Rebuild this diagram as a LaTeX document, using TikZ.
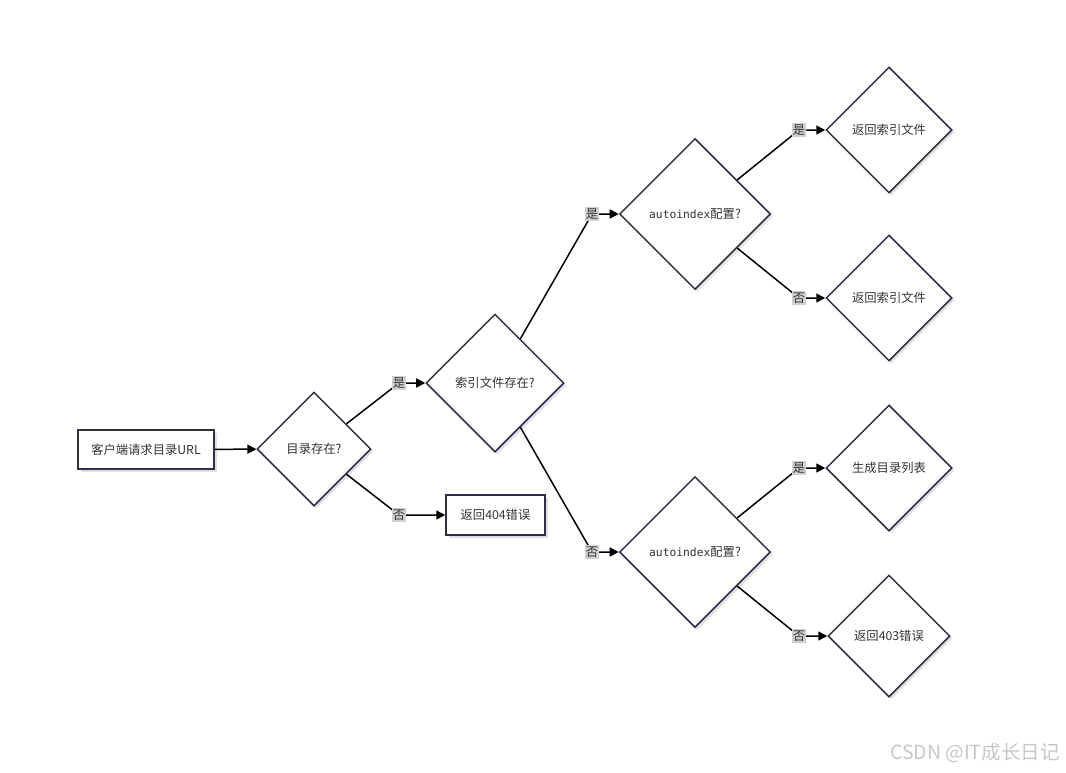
\documentclass[tikz,border=0pt]{standalone}
\usepackage{fontspec}
\setmainfont{Noto Sans CJK SC}
\newfontfamily\monof{DejaVu Sans Mono}
\usetikzlibrary{shapes.geometric,arrows.meta,shadows}
\definecolor{bd}{HTML}{2F2D48}
\definecolor{tx}{HTML}{333333}
\definecolor{lb}{HTML}{D0D0D0}
\begin{document}
\begin{tikzpicture}[x=1pt,y=-1pt,
  base/.style={draw=bd,line width=1.5pt,fill=white,text=tx,inner sep=0pt,
    font=\fontsize{12.3}{14}\selectfont,
    drop shadow={shadow xshift=2.5pt,shadow yshift=-2.5pt,fill=black!12,opacity=1}},
  box/.style={base,rectangle},
  dia/.style={base,diamond,shape aspect=1},
  lbl/.style={fill=lb,text=tx,inner xsep=1pt,inner ysep=1.5pt,font=\fontsize{12.3}{14}\selectfont},
  edge/.style={draw=black,line width=1.5pt,-{Triangle[length=9pt,width=9pt]}}]
\useasboundingbox (0,0) rectangle (1066,772);
\node[box,minimum width=136pt,minimum height=39pt] (start) at (146,449.5) {客户端请求目录URL};
\node[dia,minimum width=114pt,minimum height=114pt] (d1) at (314,449) {目录存在?};
\node[box,minimum width=99pt,minimum height=40pt] (e404) at (495.5,515) {返回404错误};
\node[dia,minimum width=138pt,minimum height=138pt] (d2) at (495,383) {索引文件存在?};
\node[dia,minimum width=151pt,minimum height=151pt] (d3) at (695,214) {{\monof\fontsize{11.3}{14}\selectfont autoindex}配置?};
\node[dia,minimum width=151pt,minimum height=151pt] (d4) at (695,552) {{\monof\fontsize{11.3}{14}\selectfont autoindex}配置?};
\node[dia,minimum width=126pt,minimum height=126pt] (r1) at (889,130) {返回索引文件};
\node[dia,minimum width=126pt,minimum height=126pt] (r2) at (889,298) {返回索引文件};
\node[dia,minimum width=126pt,minimum height=126pt] (r3) at (889,468) {生成目录列表};
\node[dia,minimum width=122pt,minimum height=122pt] (r4) at (889,636) {返回403错误};
\coordinate (b1) at (399,383);
\coordinate (b2) at (399,515);
\coordinate (b3) at (592,214);
\coordinate (b4) at (592,552);
\coordinate (b5) at (799,130);
\coordinate (b6) at (799,298);
\coordinate (b7) at (799,468);
\coordinate (b8) at (799,636);
\draw[edge] (start) -- (d1);
\draw[edge] (d1) -- (b1) -- (d2);
\draw[edge] (d1) -- (b2) -- (e404);
\draw[edge] (d2) -- (b3) -- (d3);
\draw[edge] (d2) -- (b4) -- (d4);
\draw[edge] (d3) -- (b5) -- (r1);
\draw[edge] (d3) -- (b6) -- (r2);
\draw[edge] (d4) -- (b7) -- (r3);
\draw[edge] (d4) -- (b8) -- (r4);
\node[lbl] (l1) at (b1) {是};
\node[lbl] (l2) at (b2) {否};
\node[lbl] (l3) at (b3) {是};
\node[lbl] (l4) at (b4) {否};
\node[lbl] (l5) at (b5) {是};
\node[lbl] (l6) at (b6) {否};
\node[lbl] (l7) at (b7) {是};
\node[lbl] (l8) at (b8) {否};
\node[text=black!22,font=\fontsize{19.5}{22}\selectfont] (wm) at (975,753) {CSDN @IT成长日记};
\end{tikzpicture}
\end{document}
